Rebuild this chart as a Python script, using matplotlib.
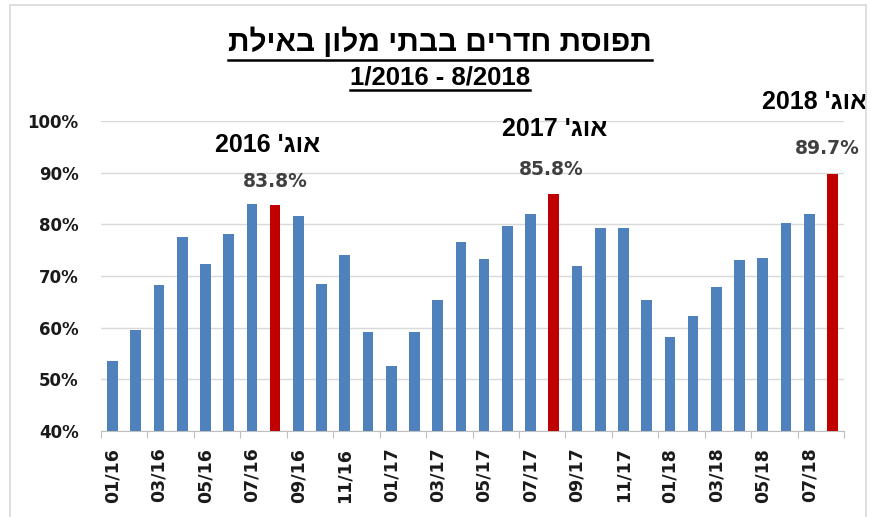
import matplotlib.pyplot as plt
from matplotlib.patches import Rectangle
from matplotlib.lines import Line2D

plt.rcParams['font.family'] = ['Liberation Sans', 'DejaVu Sans']

# occupancy (%) per month, 01/2016 .. 08/2018
months = ['01/16', '02/16', '03/16', '04/16', '05/16', '06/16', '07/16', '08/16',
          '09/16', '10/16', '11/16', '12/16', '01/17', '02/17', '03/17', '04/17',
          '05/17', '06/17', '07/17', '08/17', '09/17', '10/17', '11/17', '12/17',
          '01/18', '02/18', '03/18', '04/18', '05/18', '06/18', '07/18', '08/18']
occupancy = [53.6, 59.6, 68.2, 77.5, 72.3, 78.2, 83.9, 83.8,
             81.7, 68.5, 74.0, 59.2, 52.5, 59.2, 65.4, 76.5,
             73.3, 79.6, 82.0, 85.8, 72.0, 79.3, 79.2, 65.4,
             58.2, 62.3, 67.8, 73.1, 73.4, 80.2, 82.0, 89.7]
highlight = ['08/16', '08/17', '08/18']
highlight_years = ['2016', '2017', '2018']
yticks = [40, 50, 60, 70, 80, 90, 100]

title = "תפוסת חדרים בבתי מלון באילת"
subtitle = "1/2016 - 8/2018"
aug = "אוג'"


def rtl(s):
    # matplotlib has no bidi support: put words in visual order
    out = []
    for w in s.split(' '):
        if any('\u0590' <= c <= '\u05ff' for c in w):
            out.append(w[::-1])
        else:
            out.append(w)
    return ' '.join(out[::-1])


fig = plt.figure(figsize=(8.71, 5.17), dpi=100)
fig.add_artist(Rectangle((10 / 871, -0.02), 856 / 871, 1.02 - 5 / 517,
                         transform=fig.transFigure, fill=False,
                         edgecolor='#D9D9D9', lw=1.2))
ax = fig.add_axes([101 / 871, 86 / 517, 743 / 871, 310 / 517])

x = list(range(len(months)))
colors = ['#C00000' if m in highlight else '#4F81BD' for m in months]
ax.bar(x, occupancy, width=0.46, color=colors, zorder=3)

ax.set_xlim(-0.5, len(months) - 0.5)
ax.set_ylim(40, 100)
ax.set_yticks(yticks)
ax.set_yticklabels([f'{v}%' for v in yticks], fontsize=12, fontweight='bold',
                   family='DejaVu Sans', color='#1a1a1a')
ax.tick_params(axis='y', length=0, pad=16)
ax.grid(axis='y', color='#D9D9D9', lw=1, zorder=0)

ax.set_xticks([i - 0.5 for i in range(0, len(months) + 1, 2)])
ax.set_xticklabels([])
ax.set_xticks(x[::2], minor=True)
ax.set_xticklabels(months[::2], minor=True, rotation=90, fontsize=12.5,
                   fontweight='bold', family='DejaVu Sans', color='#1a1a1a')
ax.tick_params(axis='x', which='major', length=5, color='#BFBFBF')
ax.tick_params(axis='x', which='minor', length=0, pad=12)

for s in ['left', 'right', 'top']:
    ax.spines[s].set_visible(False)
ax.spines['bottom'].set_color('#BFBFBF')

# annotations over the August bars (label x shift, value y shift, label y shift)
offsets = [(-0.31, 0.0, 4.4, 11.6), (0.05, -0.12, 4.9, 12.7), (-0.75, -0.23, 4.9, 14.0)]
for m, yr, (dxl, dxv, dyv, dyl) in zip(highlight, highlight_years, offsets):
    i = months.index(m)
    v = occupancy[i]
    ax.text(i + dxv, v + dyv, f'{v:.1f}%', ha='center', va='center', fontsize=13.5,
            fontweight='bold', family='DejaVu Sans', color='#404040', clip_on=False)
    ax.text(i + dxl, v + dyl, rtl(f'{aug} {yr}'), ha='center', va='center',
            fontsize=18, fontweight='bold', color='black', clip_on=False)

t1 = fig.text(0.505, 0.901, rtl(title), ha='center', va='baseline', fontsize=21.5,
              fontweight='bold')
t2 = fig.text(0.505, 0.836, subtitle, ha='center', va='baseline', fontsize=18.5,
              fontweight='bold')

# underline the titles
fig.canvas.draw()
r = fig.canvas.get_renderer()
for t, yl in ((t1, 1 - 60 / 517), (t2, 1 - 90 / 517)):
    bb = t.get_window_extent(r).transformed(fig.transFigure.inverted())
    fig.add_artist(Line2D([bb.x0, bb.x1], [yl, yl], transform=fig.transFigure,
                          color='black', lw=1.8))

plt.savefig('out.png', dpi=100)
